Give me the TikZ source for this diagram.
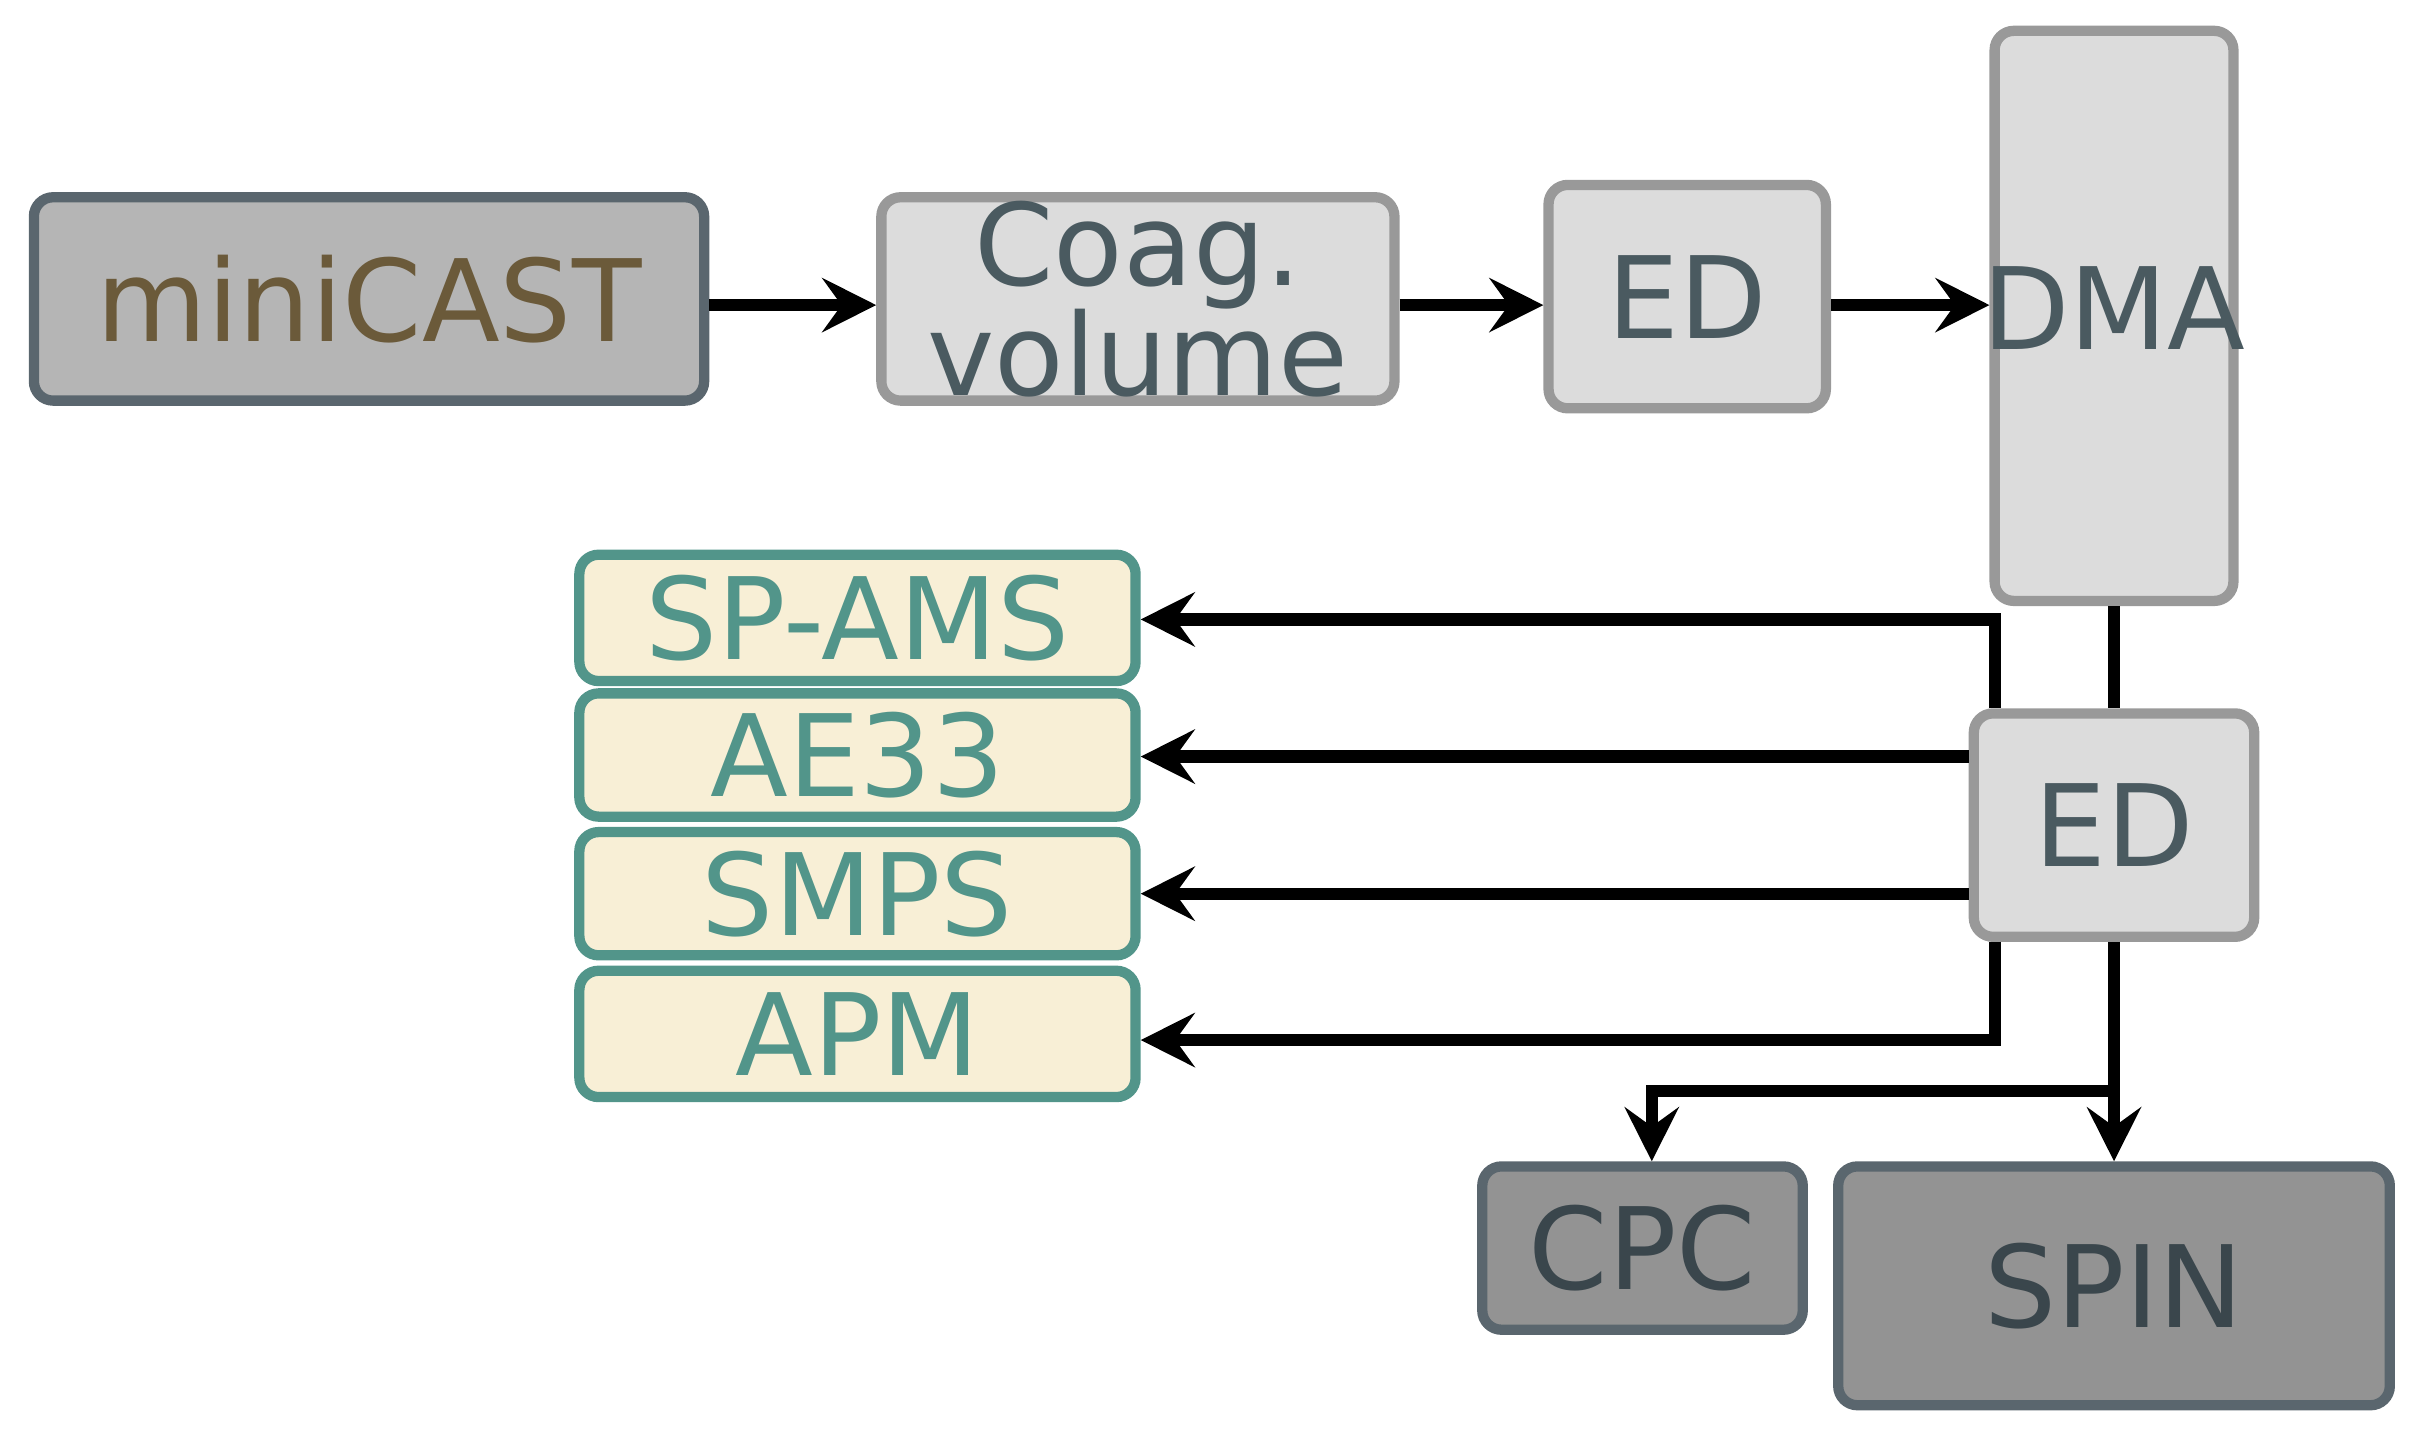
\documentclass[tikz,border=0pt]{standalone}
\usepackage{fontspec}
\setmainfont{DejaVu Sans}
\usetikzlibrary{arrows.meta}
\definecolor{grayA}{HTML}{B5B5B5}
\definecolor{grayB}{HTML}{DCDCDC}
\definecolor{grayC}{HTML}{939393}
\definecolor{bdA}{HTML}{5A666E}
\definecolor{bdB}{HTML}{999999}
\definecolor{txA}{HTML}{6B5A3A}
\definecolor{txB}{HTML}{4A5A60}
\definecolor{txC}{HTML}{3A464C}
\definecolor{cream}{HTML}{F8EFD6}
\definecolor{teal}{HTML}{52958A}
\begin{document}
\begin{tikzpicture}[x=0.02cm,y=-0.02cm,
  box/.style={draw,rounded corners=0.25cm,line width=3.8pt,inner sep=0pt,align=center,font=\fontsize{42}{42}\selectfont},
  dark/.style={box,fill=grayA,draw=bdA,text=txA},
  light/.style={box,fill=grayB,draw=bdB,text=txB},
  instr/.style={box,fill=cream,draw=teal,text=teal},
  end/.style={box,fill=grayC,draw=bdA,text=txC},
  arr/.style={line width=4.5pt,-{Stealth[length=0.7cm,width=0.7cm,inset=0.25cm]}},
  ln/.style={line width=4.5pt}]
\useasboundingbox (0,0) rectangle (1568,937);
\node[dark,minimum width=435*0.02cm,minimum height=132*0.02cm] (mc) at (239.5,194) {miniCAST};
\node[light,minimum width=333*0.02cm,minimum height=132*0.02cm] (cv) at (738.5,194) {Coag.\\[-0.05cm]volume};
\node[light,minimum width=180*0.02cm,minimum height=145*0.02cm] (ed1) at (1095,192.5) {ED};
\node[light,minimum width=155*0.02cm,minimum height=370*0.02cm] (dma) at (1372,205) {};
\node[text=txB,font=\fontsize{42}{42}\selectfont] at (1372,200) {DMA};
\node[light,minimum width=182*0.02cm,minimum height=145*0.02cm] (ed2) at (1372,535.5) {ED};
\node[instr,minimum width=361*0.02cm,minimum height=82*0.02cm] (sp) at (556.5,401) {SP-AMS};
\node[instr,minimum width=361*0.02cm,minimum height=80*0.02cm] (ae) at (556.5,490) {AE33};
\node[instr,minimum width=361*0.02cm,minimum height=80*0.02cm] (sm) at (556.5,580) {SMPS};
\node[instr,minimum width=361*0.02cm,minimum height=82*0.02cm] (apm) at (556.5,671) {APM};
\node[end,minimum width=208*0.02cm,minimum height=106*0.02cm] (cpc) at (1066,810) {CPC};
\node[end,minimum width=358*0.02cm,minimum height=155*0.02cm] (spin) at (1372,834.5) {SPIN};
\coordinate (a1) at (1295,402);
\coordinate (a2) at (1295,675);
\coordinate (br) at (1372,708);
\coordinate (bl) at (1072,708);
\draw[arr] (mc.east |- 0,198) -- (cv.west |- 0,198);
\draw[arr] (cv.east |- 0,198) -- (ed1.west |- 0,198);
\draw[arr] (ed1.east |- 0,198) -- (dma.west |- 0,198);
\draw[ln] (dma.south) -- (ed2.north);
\draw[arr] (ed2.north -| a1) -- (a1) -- (sp.east |- a1);
\draw[arr] (ed2.west |- 0,491) -- (ae.east |- 0,491);
\draw[arr] (ed2.west |- 0,580) -- (sm.east |- 0,580);
\draw[arr] (ed2.south -| a2) -- (a2) -- (apm.east |- a2);
\draw[arr] (ed2.south) -- (spin.north);
\draw[arr] (br) -- (bl) -- (cpc.north -| bl);
\end{tikzpicture}
\end{document}
